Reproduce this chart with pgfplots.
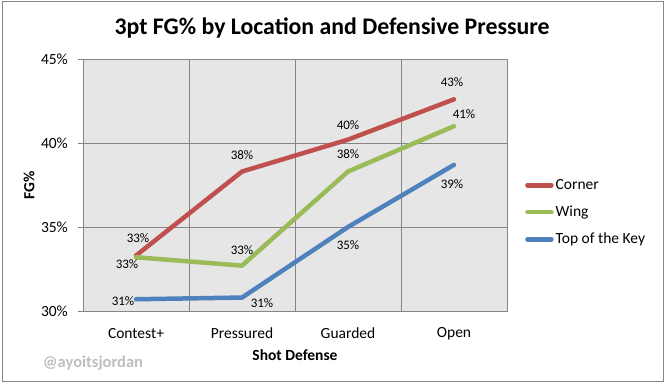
\documentclass[border=0pt]{standalone}
\usepackage{pgfplots}
\usepackage{pgfplotstable}
\pgfplotsset{compat=1.18}
\usepackage{fontspec}
\setmainfont{Carlito}
\definecolor{cornerc}{HTML}{C0504D}
\definecolor{wingc}{HTML}{9BBB59}
\definecolor{topc}{HTML}{4F81BD}
\definecolor{plotbg}{HTML}{E6E6E6}
\definecolor{gridc}{HTML}{868686}
\definecolor{wmark}{HTML}{BFBFBF}

\pgfplotstableread{
x y dx dy
0 33.3 2 17
1 38.3 0 16
2 40.2 0 15
3 42.6 -2 17
}\corner
\pgfplotstableread{
x y dx dy
0 33.2 -9 -7
1 32.7 0 16
2 38.3 0 17
3 41.0 10 12
}\wing
\pgfplotstableread{
x y dx dy
0 30.7 -13 -1.5
1 30.8 20 -6
2 35.0 0 -18
3 38.7 -2 -19
}\topkey

\begin{document}
\begin{tikzpicture}
\useasboundingbox (0,0) rectangle (665bp,385bp);
\fill[white] (0,0) rectangle (665bp,385bp);
\draw[gridc, line width=0.75bp] (2bp,4bp) rectangle (663bp,384bp);
\node[font=\fontsize{23.8bp}{28bp}\selectfont\bfseries, anchor=center] at (332bp,357bp) {3pt FG\% by Location and Defensive Pressure};
\node[font=\fontsize{16.5bp}{19bp}\selectfont\bfseries, text=wmark, anchor=center] at (93bp,22bp) {@ayoitsjordan};
\begin{axis}[
  at={(83bp,74bp)}, anchor=south west,
  scale only axis, width=424bp, height=252bp,
  xmin=-0.5, xmax=3.5, ymin=30, ymax=45,
  axis background/.style={fill=plotbg},
  axis line style={draw=gridc, line width=0.75bp},
  xtick={0,1,2,3}, xticklabels={Contest+,Pressured,Guarded,Open},
  minor xtick={0.5,1.5,2.5}, xminorgrids,
  minor grid style={draw=gridc, line width=0.75bp},
  ytick={30,35,40,45}, ymajorgrids,
  major grid style={draw=gridc, line width=0.75bp},
  xtick style={draw=none},
  ytick style={draw=gridc, line width=0.75bp},
  ytick pos=left, tick align=outside, major tick length=5bp,
  yticklabel={\pgfmathprintnumber{\tick}\%},
  /pgf/number format/assume math mode=true,
  ticklabel style={font=\fontsize{15.5bp}{18bp}\selectfont},
  xticklabel style={anchor=center, yshift=-17.5bp, inner sep=0pt},
  yticklabel style={anchor=east, inner sep=0pt, xshift=-10bp},
  xlabel={Shot Defense}, ylabel={FG\%},
  label style={font=\fontsize{15.5bp}{18bp}\selectfont\bfseries},
  xlabel style={at={(axis description cs:0.5,-0.1746)}, anchor=center},
  ylabel style={at={(axis description cs:-0.1274,0.5)}, anchor=center},
  legend style={at={(rel axis cs:1,0.5)}, anchor=west, xshift=18bp, yshift=-27.5bp,
    draw=none, fill=none, inner sep=0pt, row sep=11bp,
    font=\fontsize{15.5bp}{18bp}\selectfont},
  legend cell align=left,
  legend image code/.code={\draw[#1, line width=4.5bp, line cap=round] (2bp,0bp) -- (26bp,0bp);},
  every axis plot/.append style={line width=4.5bp, line cap=round, line join=round},
  nodes near coords={\pgfmathprintnumber[fixed,precision=0]{\pgfplotspointmeta}\%},
  point meta=y,
  visualization depends on={\thisrow{dx}\as\dx},
  visualization depends on={\thisrow{dy}\as\dy},
  nodes near coords style={anchor=center, xshift=\dx*1bp, yshift=\dy*1bp,
    font=\fontsize{13bp}{15bp}\selectfont, text=black, inner sep=0pt},
  clip=false,
]
\addplot[cornerc, no markers] table[x=x,y=y] {\corner};
\addlegendentry{Corner}
\addplot[wingc, no markers] table[x=x,y=y] {\wing};
\addlegendentry{Wing}
\addplot[topc, no markers] table[x=x,y=y] {\topkey};
\addlegendentry{Top of the Key}
\end{axis}
\end{tikzpicture}
\end{document}
